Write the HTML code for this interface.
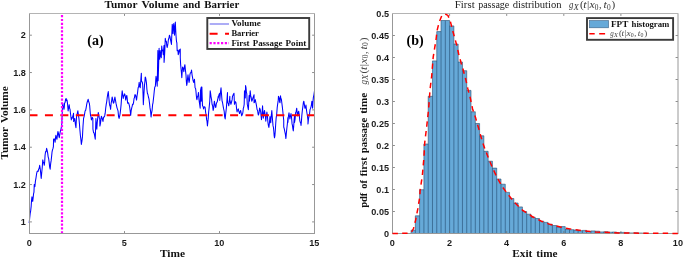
<!DOCTYPE html>
<html><head><meta charset="utf-8"><title>Tumor Volume and First Passage Distribution</title>
<style>html,body{margin:0;padding:0;background:#fff}body{width:685px;height:259px;overflow:hidden}svg{display:block}</style>
</head><body>
<svg width="685" height="259" viewBox="0 0 685 259">
<rect width="685" height="259" fill="#fff"/>
<path d="M124.50 233.5v-2.4M124.50 13.5v2.4" stroke="#707070" stroke-width="0.8" fill="none"/>
<path d="M219.50 233.5v-2.4M219.50 13.5v2.4" stroke="#707070" stroke-width="0.8" fill="none"/>
<path d="M29.5 221.90h2.4M314.5 221.90h-2.4" stroke="#707070" stroke-width="0.8" fill="none"/>
<path d="M29.5 184.56h2.4M314.5 184.56h-2.4" stroke="#707070" stroke-width="0.8" fill="none"/>
<path d="M29.5 147.22h2.4M314.5 147.22h-2.4" stroke="#707070" stroke-width="0.8" fill="none"/>
<path d="M29.5 109.88h2.4M314.5 109.88h-2.4" stroke="#707070" stroke-width="0.8" fill="none"/>
<path d="M29.5 72.54h2.4M314.5 72.54h-2.4" stroke="#707070" stroke-width="0.8" fill="none"/>
<path d="M29.5 35.20h2.4M314.5 35.20h-2.4" stroke="#707070" stroke-width="0.8" fill="none"/>
<path d="M29.17 223.06 L29.67 218.25 L30.18 213.45 L30.68 210.80 L31.18 206.07 L31.56 200.07 L31.95 196.81 L32.34 199.24 L32.72 201.44 L33.13 197.92 L33.55 193.85 L33.96 192.18 L34.26 184.45 L34.57 185.56 L34.88 186.62 L35.45 180.86 L36.01 177.85 L36.58 173.79 L37.10 171.64 L37.61 170.94 L38.13 171.48 L38.64 169.18 L39.16 168.41 L39.67 165.30 L40.18 168.47 L40.70 173.17 L41.21 178.43 L41.73 172.66 L42.24 167.51 L42.76 159.90 L43.27 161.95 L43.79 163.17 L44.30 165.30 L44.69 161.80 L45.07 155.26 L45.59 151.50 L46.10 151.78 L46.62 148.32 L47.13 150.48 L47.65 152.84 L48.16 156.81 L48.66 158.67 L49.16 162.37 L49.67 167.08 L50.17 169.16 L50.63 163.89 L51.09 160.93 L51.56 156.87 L52.02 152.18 L52.48 149.92 L52.95 148.63 L53.41 146.62 L53.57 139.20 L54.08 138.83 L54.60 139.85 L55.11 142.29 L55.50 137.87 L55.88 135.34 L56.42 137.85 L56.96 139.20 L57.42 135.11 L57.89 131.48 L58.35 132.95 L58.82 135.87 L59.28 137.66 L59.69 135.19 L60.11 132.39 L60.52 130.71 L60.93 129.59 L61.34 127.23 L61.75 124.53 L62.23 113.03 L62.72 103.16 L63.13 105.46 L63.55 107.36 L63.96 109.34 L64.27 107.45 L64.57 103.16 L65.09 102.35 L65.60 99.39 L66.12 98.53 L66.58 100.84 L67.04 100.07 L67.59 104.25 L68.13 110.88 L68.67 107.53 L69.21 104.71 L69.62 108.36 L70.03 109.26 L70.44 113.20 L70.88 116.51 L71.32 119.90 L71.66 117.70 L71.99 118.45 L72.50 117.24 L73.02 115.80 L73.53 113.20 L73.64 121.44 L74.20 120.18 L74.77 118.45 L75.36 124.24 L75.96 127.62 L76.29 120.97 L76.62 115.52 L77.03 114.60 L77.44 112.73 L77.85 110.88 L78.39 114.92 L78.93 118.45 L79.42 123.51 L79.90 129.94 L80.39 135.47 L80.87 139.17 L81.36 144.45 L81.90 141.19 L82.44 136.88 L83.00 126.26 L83.57 118.45 L84.08 116.57 L84.60 113.87 L85.11 110.88 L85.63 110.40 L86.14 107.80 L86.66 104.71 L87.17 102.22 L87.69 100.74 L88.20 99.30 L88.74 101.77 L89.28 103.16 L89.69 105.75 L90.11 111.28 L90.52 115.52 L90.96 116.65 L91.40 119.90 L91.88 118.19 L92.35 117.52 L92.83 118.45 L92.94 129.16 L93.52 132.53 L94.10 132.99 L94.68 135.88 L95.26 139.20 L95.59 128.48 L95.92 118.45 L96.36 124.99 L96.80 129.16 L97.28 122.24 L97.76 117.84 L98.24 112.43 L98.75 114.59 L99.27 117.67 L99.78 118.45 L99.89 126.07 L100.37 123.83 L100.84 120.71 L101.32 116.29 L101.87 117.30 L102.43 119.45 L102.98 121.44 L103.31 118.80 L103.64 117.06 L104.16 117.00 L104.67 115.95 L105.19 113.20 L105.70 108.22 L106.22 104.44 L106.73 101.62 L107.24 97.42 L107.76 94.07 L108.27 91.58 L108.81 97.32 L109.35 103.16 L109.76 105.51 L110.18 106.52 L110.59 109.34 L111.10 103.64 L111.62 100.85 L112.13 96.99 L112.54 98.63 L112.96 101.32 L113.37 103.16 L113.88 102.55 L114.40 99.66 L114.91 96.99 L115.45 100.12 L115.99 103.16 L116.51 105.60 L117.02 107.84 L117.54 109.34 L118.05 110.95 L118.57 116.69 L119.08 118.45 L119.60 116.31 L120.11 113.58 L120.63 109.34 L121.14 104.12 L121.66 96.64 L122.17 90.81 L122.71 94.35 L123.25 98.53 L123.66 95.72 L124.08 95.87 L124.49 93.90 L124.90 94.56 L125.31 96.63 L125.72 100.07 L126.26 96.82 L126.80 95.44 L127.19 98.22 L127.58 103.16 L128.09 103.16 L128.61 102.76 L129.12 104.71 L129.63 106.71 L130.15 110.80 L130.66 115.52 L131.20 110.38 L131.74 107.79 L132.15 106.33 L132.57 104.22 L132.98 104.71 L133.52 102.82 L134.06 98.53 L134.47 97.61 L134.89 94.83 L135.30 94.67 L135.71 95.68 L136.12 97.78 L136.53 100.07 L137.07 95.78 L137.61 92.35 L138.13 87.80 L138.64 86.78 L139.16 82.32 L139.70 86.60 L140.24 87.72 L140.80 80.33 L141.35 73.16 L141.47 80.62 L141.88 81.90 L142.30 81.97 L142.71 84.63 L143.02 93.40 L143.33 104.71 L143.74 97.51 L144.15 90.57 L144.56 84.63 L144.88 81.88 L145.21 77.02 L145.66 77.74 L146.11 80.62 L146.50 83.41 L146.88 89.26 L147.39 93.28 L147.91 94.50 L148.42 96.99 L148.96 98.94 L149.50 103.16 L150.02 107.93 L150.53 110.91 L151.05 117.06 L151.56 113.03 L152.08 110.36 L152.59 104.71 L153.00 102.78 L153.42 99.16 L153.83 95.44 L154.31 90.49 L154.78 87.06 L155.37 86.18 L155.69 80.79 L156.02 76.25 L156.61 80.62 L156.79 81.66 L157.22 86.18 L157.55 67.25 L157.87 50.45 L157.87 70.07 L158.15 80.62 L158.62 65.33 L159.10 48.29 L159.10 54.63 L159.41 57.05 L159.72 59.26 L160.19 50.45 L160.49 53.09 L160.88 56.30 L161.27 57.72 L161.73 45.97 L162.19 50.62 L162.50 49.99 L162.81 50.45 L163.27 54.63 L163.66 49.03 L164.05 45.20 L164.05 62.35 L164.44 57.48 L164.82 50.62 L165.28 38.25 L165.82 41.35 L166.36 41.34 L166.75 45.56 L167.13 47.52 L167.54 45.92 L167.96 43.39 L168.37 39.79 L168.91 38.24 L169.45 35.16 L169.99 36.60 L170.53 39.79 L171.00 42.17 L171.46 44.43 L171.84 33.93 L172.23 24.35 L172.62 27.48 L173.00 33.62 L173.38 27.09 L173.77 23.58 L174.16 28.66 L174.55 35.16 L174.94 27.83 L175.32 22.04 L175.70 29.99 L176.09 36.71 L176.48 41.26 L176.86 42.88 L177.17 50.62 L177.56 50.37 L177.94 50.45 L178.25 54.63 L178.72 53.63 L179.18 49.83 L179.18 51.54 L179.72 51.86 L180.26 49.06 L180.26 57.72 L180.64 64.58 L181.03 68.53 L181.42 72.73 L181.80 77.79 L182.19 71.50 L182.58 66.99 L182.99 67.66 L183.40 69.11 L183.81 71.62 L184.35 67.20 L184.89 64.67 L185.43 70.09 L185.97 74.71 L186.36 81.40 L186.74 85.52 L187.15 83.01 L187.57 78.25 L187.98 74.71 L188.52 79.06 L189.06 82.43 L189.47 80.30 L189.89 74.92 L190.30 73.16 L190.71 72.64 L191.12 72.41 L191.53 70.07 L192.07 74.83 L192.61 77.79 L193.15 80.91 L193.69 82.43 L194.08 80.81 L194.47 79.34 L195.07 87.79 L195.55 88.45 L195.93 90.96 L196.31 95.52 L196.62 98.50 L196.93 99.63 L197.44 96.69 L197.96 95.79 L198.47 92.43 L198.94 99.08 L199.40 102.72 L199.78 105.09 L200.17 108.13 L200.48 90.88 L200.87 88.63 L201.25 87.02 L201.25 101.18 L201.56 95.55 L201.88 87.06 L202.19 97.15 L202.49 105.81 L203.03 106.30 L203.57 108.90 L204.08 107.19 L204.60 106.75 L205.11 107.35 L205.65 112.51 L206.19 115.07 L206.60 119.65 L207.02 121.14 L207.43 125.88 L207.84 122.29 L208.25 118.16 L208.66 111.99 L209.20 107.09 L209.74 101.18 L210.21 90.88 L210.67 93.75 L211.13 97.73 L211.60 99.73 L212.06 104.26 L212.60 105.80 L213.14 110.44 L213.55 108.86 L213.97 104.75 L214.38 101.18 L214.92 104.35 L215.46 107.35 L215.87 107.19 L216.28 104.05 L216.69 102.72 L217.21 101.77 L217.72 99.48 L218.24 96.29 L218.24 98.09 L218.75 95.54 L219.27 94.04 L219.78 93.20 L219.78 100.40 L220.19 95.53 L220.61 91.16 L221.02 87.79 L221.56 94.76 L222.10 101.18 L222.61 102.98 L223.13 106.07 L223.64 108.90 L224.16 111.06 L224.67 116.90 L225.19 118.93 L225.60 114.60 L226.01 111.08 L226.42 107.35 L226.96 100.16 L227.50 92.43 L227.50 99.63 L227.91 102.98 L228.33 103.50 L228.74 105.81 L229.28 102.39 L229.82 96.29 L229.82 99.63 L230.36 101.95 L230.90 104.26 L231.31 102.82 L231.72 101.25 L232.13 99.63 L232.52 96.03 L232.91 95.52 L233.45 94.17 L233.99 93.20 L234.45 104.26 L234.96 102.73 L235.48 101.65 L235.99 102.72 L236.54 108.31 L237.08 111.99 L237.49 109.91 L237.90 109.85 L238.31 108.90 L238.72 111.16 L239.14 112.17 L239.55 113.53 L240.09 111.43 L240.63 110.44 L241.17 113.20 L241.71 115.85 L242.12 114.74 L242.53 114.19 L242.94 111.99 L243.35 108.15 L243.77 107.03 L244.18 104.26 L244.49 90.88 L244.88 93.68 L245.26 98.09 L245.57 85.48 L245.98 87.60 L246.39 92.01 L246.80 93.97 L247.27 104.26 L247.81 106.99 L248.35 109.67 L248.74 102.79 L249.12 95.52 L249.43 101.18 L249.81 96.86 L250.20 90.88 L250.71 95.63 L251.23 97.57 L251.74 101.18 L252.32 99.93 L252.90 97.98 L253.48 96.39 L254.06 94.74 L254.06 102.72 L254.47 102.31 L254.89 100.51 L255.30 99.63 L255.71 101.80 L256.12 103.68 L256.53 105.81 L257.07 109.54 L257.61 110.44 L258.00 113.39 L258.38 115.07 L258.79 113.96 L259.21 111.86 L259.62 108.13 L260.16 109.29 L260.70 111.99 L261.09 116.04 L261.47 119.71 L262.01 114.18 L262.55 105.81 L262.94 113.07 L263.33 118.16 L263.74 114.43 L264.15 111.80 L264.56 110.44 L264.97 113.86 L265.39 116.28 L265.80 121.25 L266.34 115.79 L266.88 111.99 L267.42 116.02 L267.96 122.79 L268.42 125.65 L268.89 127.43 L269.43 122.93 L269.97 116.62 L270.36 120.98 L270.74 122.79 L271.28 115.51 L271.82 110.44 L272.23 116.28 L272.64 121.25 L273.05 125.88 L273.43 127.30 L273.80 131.00 L274.15 135.63 L274.50 137.80 L274.90 135.65 L275.30 130.50 L275.72 123.43 L276.14 118.16 L276.68 114.20 L277.22 107.35 L277.69 103.94 L278.15 101.18 L278.46 96.29 L278.85 97.15 L279.23 98.09 L279.62 101.97 L280.00 102.72 L280.49 95.81 L280.90 98.93 L281.32 98.85 L281.73 101.99 L282.27 106.40 L282.81 111.25 L283.27 115.93 L283.74 120.52 L283.74 126.99 L284.28 128.79 L284.82 131.62 L285.36 134.12 L285.90 138.57 L286.37 132.97 L286.83 128.53 L287.37 123.69 L287.91 117.43 L287.91 122.35 L288.45 116.03 L288.99 112.79 L289.45 116.05 L289.91 118.97 L290.45 116.08 L290.99 113.57 L291.53 117.19 L292.08 123.90 L292.49 125.68 L292.90 128.93 L293.31 130.85 L293.72 125.90 L294.14 119.48 L294.55 115.88 L294.55 122.35 L295.09 119.12 L295.63 112.79 L296.17 111.40 L296.71 108.16 L297.17 113.53 L297.63 115.88 L298.18 112.30 L298.72 111.25 L299.26 115.13 L299.80 120.52 L300.26 122.35 L300.64 122.42 L301.03 125.44 L301.41 121.55 L301.80 115.88 L302.34 110.52 L302.88 106.62 L303.35 102.73 L303.81 101.21 L304.35 104.44 L304.89 108.16 L305.43 107.93 L305.97 105.07 L306.44 109.95 L306.90 112.79 L307.44 115.88 L307.98 120.52 L307.98 123.90 L308.52 118.77 L309.06 115.88 L309.52 114.14 L309.99 109.71 L310.53 108.39 L311.07 106.62 L311.45 104.56 L311.84 101.21 L312.23 103.37 L312.61 108.16 L313.00 101.34 L313.38 97.35 L313.93 94.87 L314.47 91.18" fill="none" stroke="#0000ff" stroke-width="1.05" stroke-linejoin="round"/>
<path d="M29.5 115.2H314.5" stroke="#ff0000" stroke-width="2.1" stroke-dasharray="8 7.43" fill="none"/>
<path d="M62.0 13.5V233.5" stroke="#ff00ff" stroke-width="2.2" stroke-dasharray="2.2 1.59" stroke-dashoffset="2.19" fill="none"/>
<path d="M29.0 13.5H315.0" stroke="#b4b4b4" stroke-width="1" fill="none"/>
<path d="M29.5 14.0V233.5M314.5 14.0V233.5M29.0 233.5H315.0" stroke="#989898" stroke-width="1" fill="none"/>
<text x="29.20" y="246.1" text-anchor="middle" font-family="Liberation Sans, Arial, Helvetica, sans-serif" font-weight="bold" font-size="9.1" fill="#1c1c1c">0</text>
<text x="124.20" y="246.1" text-anchor="middle" font-family="Liberation Sans, Arial, Helvetica, sans-serif" font-weight="bold" font-size="9.1" fill="#1c1c1c">5</text>
<text x="219.20" y="246.1" text-anchor="middle" font-family="Liberation Sans, Arial, Helvetica, sans-serif" font-weight="bold" font-size="9.1" fill="#1c1c1c">10</text>
<text x="314.20" y="246.1" text-anchor="middle" font-family="Liberation Sans, Arial, Helvetica, sans-serif" font-weight="bold" font-size="9.1" fill="#1c1c1c">15</text>
<text x="25.9" y="224.90" text-anchor="end" font-family="Liberation Sans, Arial, Helvetica, sans-serif" font-weight="bold" font-size="9.1" fill="#1c1c1c">1</text>
<text x="25.9" y="187.56" text-anchor="end" font-family="Liberation Sans, Arial, Helvetica, sans-serif" font-weight="bold" font-size="9.1" fill="#1c1c1c">1.2</text>
<text x="25.9" y="150.22" text-anchor="end" font-family="Liberation Sans, Arial, Helvetica, sans-serif" font-weight="bold" font-size="9.1" fill="#1c1c1c">1.4</text>
<text x="25.9" y="112.88" text-anchor="end" font-family="Liberation Sans, Arial, Helvetica, sans-serif" font-weight="bold" font-size="9.1" fill="#1c1c1c">1.6</text>
<text x="25.9" y="75.54" text-anchor="end" font-family="Liberation Sans, Arial, Helvetica, sans-serif" font-weight="bold" font-size="9.1" fill="#1c1c1c">1.8</text>
<text x="25.9" y="38.20" text-anchor="end" font-family="Liberation Sans, Arial, Helvetica, sans-serif" font-weight="bold" font-size="9.1" fill="#1c1c1c">2</text>
<g transform="translate(104.3 8)"><text x="0.10" y="0" font-family="Liberation Serif, Times New Roman, serif" font-weight="bold" font-size="10" textLength="33.06" lengthAdjust="spacingAndGlyphs" fill="#111">Tumor</text><text x="37.16" y="0" font-family="Liberation Serif, Times New Roman, serif" font-weight="bold" font-size="10" textLength="37.33" lengthAdjust="spacingAndGlyphs" fill="#111">Volume</text><text x="78.50" y="0" font-family="Liberation Serif, Times New Roman, serif" font-weight="bold" font-size="10" textLength="17.48" lengthAdjust="spacingAndGlyphs" fill="#111">and</text><text x="99.99" y="0" font-family="Liberation Serif, Times New Roman, serif" font-weight="bold" font-size="10" textLength="34.98" lengthAdjust="spacingAndGlyphs" fill="#111">Barrier</text></g>
<text x="159.9" y="257.4" font-family="Liberation Serif, Times New Roman, serif" font-weight="bold" font-size="10" textLength="25.1" lengthAdjust="spacingAndGlyphs" fill="#111">Time</text>
<g transform="translate(8.3 159.6) rotate(-90)"><text x="0.10" y="0" font-family="Liberation Serif, Times New Roman, serif" font-weight="bold" font-size="10" textLength="32.54" lengthAdjust="spacingAndGlyphs" fill="#111">Tumor</text><text x="36.59" y="0" font-family="Liberation Serif, Times New Roman, serif" font-weight="bold" font-size="10" textLength="36.74" lengthAdjust="spacingAndGlyphs" fill="#111">Volume</text></g>
<text x="87.3" y="44.7" font-family="Liberation Serif, Times New Roman, serif" font-weight="bold" font-size="14" fill="#000">(a)</text>
<rect x="207.3" y="18.0" width="101.9" height="30.95" fill="#fff" stroke="#3a3a3a" stroke-width="1.9"/>
<path d="M209.7 24.0H229" stroke="#7c7cf0" stroke-width="1.25" fill="none"/>
<path d="M209.6 33.8H229" stroke="#ff0000" stroke-width="2" stroke-dasharray="8 7.45 4 0" fill="none"/>
<path d="M209.6 43.1H229" stroke="#ff00ff" stroke-width="2.1" stroke-dasharray="2.2 1.6" fill="none"/>
<g transform="translate(231.3 26.3)"><text x="0.10" y="0" font-family="Liberation Serif, Times New Roman, serif" font-weight="bold" font-size="7.8" textLength="29.36" lengthAdjust="spacingAndGlyphs" fill="#111">Volume</text></g>
<g transform="translate(231.3 36.2)"><text x="0.10" y="0" font-family="Liberation Serif, Times New Roman, serif" font-weight="bold" font-size="7.8" textLength="27.51" lengthAdjust="spacingAndGlyphs" fill="#111">Barrier</text></g>
<g transform="translate(231.3 46.0)"><text x="0.10" y="0" font-family="Liberation Serif, Times New Roman, serif" font-weight="bold" font-size="7.8" textLength="18.15" lengthAdjust="spacingAndGlyphs" fill="#111">First</text><text x="21.47" y="0" font-family="Liberation Serif, Times New Roman, serif" font-weight="bold" font-size="7.8" textLength="29.56" lengthAdjust="spacingAndGlyphs" fill="#111">Passage</text><text x="54.26" y="0" font-family="Liberation Serif, Times New Roman, serif" font-weight="bold" font-size="7.8" textLength="20.80" lengthAdjust="spacingAndGlyphs" fill="#111">Point</text></g>
<path d="M411.06 233.5V230.20H415.34V215.80H419.62V189.70H423.91V144.00H428.19V96.30H432.47V60.90H436.75V31.60H441.04V20.50H445.32V20.50H449.60V25.90H453.88V44.00H458.16V62.00H462.45V70.70H466.73V90.40H471.01V111.75H475.30V123.50H479.58V135.80H483.86V151.30H488.14V161.20H492.43V168.10H496.71V179.00H500.99V184.20H505.27V192.40H509.56V198.50H513.84V203.00H518.12V206.90H522.40V211.60H526.68V214.20H530.97V217.30H535.25V218.50H539.53V221.20H543.82V222.40H548.10V224.25H552.38V225.50H556.66V227.00H560.95V226.60H565.23V229.30H569.51V229.65H573.79V230.00H578.08V230.70H582.36V230.40H586.64V231.50H590.92V230.90H595.21V231.20H599.49V231.90H603.77V231.70H608.05V232.20H612.34V232.00H616.62V232.50H620.90V232.40H625.18V232.70H629.46V232.90H633.75V232.80H638.03V233.00H642.31V233.10H646.60V233.5Z" fill="#66a9d8" stroke="none"/>
<path d="M411.06 233.5V230.20M415.34 233.5V215.80M419.62 233.5V189.70M423.91 233.5V144.00M428.19 233.5V96.30M432.47 233.5V60.90M436.75 233.5V31.60M441.04 233.5V20.50M445.32 233.5V20.50M449.60 233.5V20.50M453.88 233.5V25.90M458.16 233.5V44.00M462.45 233.5V62.00M466.73 233.5V70.70M471.01 233.5V90.40M475.30 233.5V111.75M479.58 233.5V123.50M483.86 233.5V135.80M488.14 233.5V151.30M492.43 233.5V161.20M496.71 233.5V168.10M500.99 233.5V179.00M505.27 233.5V184.20M509.56 233.5V192.40M513.84 233.5V198.50M518.12 233.5V203.00M522.40 233.5V206.90M526.68 233.5V211.60M530.97 233.5V214.20M535.25 233.5V217.30M539.53 233.5V218.50M543.82 233.5V221.20M548.10 233.5V222.40M552.38 233.5V224.25M556.66 233.5V225.50M560.95 233.5V226.60M565.23 233.5V226.60M569.51 233.5V229.30M573.79 233.5V229.65M578.08 233.5V230.00M582.36 233.5V230.40M586.64 233.5V230.40M590.92 233.5V230.90M595.21 233.5V230.90M599.49 233.5V231.20M603.77 233.5V231.70M608.05 233.5V231.70M612.34 233.5V232.00M616.62 233.5V232.00M620.90 233.5V232.40M625.18 233.5V232.40M629.46 233.5V232.70M633.75 233.5V232.80M638.03 233.5V232.80M642.31 233.5V233.00M646.60 233.5V233.10M411.06 230.20H415.34M415.34 215.80H419.62M419.62 189.70H423.91M423.91 144.00H428.19M428.19 96.30H432.47M432.47 60.90H436.75M436.75 31.60H441.04M441.04 20.50H445.32M445.32 20.50H449.60M449.60 25.90H453.88M453.88 44.00H458.16M458.16 62.00H462.45M462.45 70.70H466.73M466.73 90.40H471.01M471.01 111.75H475.30M475.30 123.50H479.58M479.58 135.80H483.86M483.86 151.30H488.14M488.14 161.20H492.43M492.43 168.10H496.71M496.71 179.00H500.99M500.99 184.20H505.27M505.27 192.40H509.56M509.56 198.50H513.84M513.84 203.00H518.12M518.12 206.90H522.40M522.40 211.60H526.68M526.68 214.20H530.97M530.97 217.30H535.25M535.25 218.50H539.53M539.53 221.20H543.82M543.82 222.40H548.10M548.10 224.25H552.38M552.38 225.50H556.66M556.66 227.00H560.95M560.95 226.60H565.23M565.23 229.30H569.51M569.51 229.65H573.79M573.79 230.00H578.08M578.08 230.70H582.36M582.36 230.40H586.64M586.64 231.50H590.92M590.92 230.90H595.21M595.21 231.20H599.49M599.49 231.90H603.77M603.77 231.70H608.05M608.05 232.20H612.34M612.34 232.00H616.62M616.62 232.50H620.90M620.90 232.40H625.18M625.18 232.70H629.46M629.46 232.90H633.75M633.75 232.80H638.03M638.03 233.00H642.31M642.31 233.10H646.60" fill="none" stroke="#1d4266" stroke-opacity="0.85" stroke-width="0.65"/>
<path d="M449.60 233.5v-2.4M449.60 13.5v2.4" stroke="#707070" stroke-width="0.8" fill="none"/>
<path d="M506.70 233.5v-2.4M506.70 13.5v2.4" stroke="#707070" stroke-width="0.8" fill="none"/>
<path d="M563.80 233.5v-2.4M563.80 13.5v2.4" stroke="#707070" stroke-width="0.8" fill="none"/>
<path d="M620.90 233.5v-2.4M620.90 13.5v2.4" stroke="#707070" stroke-width="0.8" fill="none"/>
<path d="M392.5 211.50h2.4M678.0 211.50h-2.4" stroke="#707070" stroke-width="0.8" fill="none"/>
<path d="M392.5 189.50h2.4M678.0 189.50h-2.4" stroke="#707070" stroke-width="0.8" fill="none"/>
<path d="M392.5 167.50h2.4M678.0 167.50h-2.4" stroke="#707070" stroke-width="0.8" fill="none"/>
<path d="M392.5 145.50h2.4M678.0 145.50h-2.4" stroke="#707070" stroke-width="0.8" fill="none"/>
<path d="M392.5 123.50h2.4M678.0 123.50h-2.4" stroke="#707070" stroke-width="0.8" fill="none"/>
<path d="M392.5 101.50h2.4M678.0 101.50h-2.4" stroke="#707070" stroke-width="0.8" fill="none"/>
<path d="M392.5 79.50h2.4M678.0 79.50h-2.4" stroke="#707070" stroke-width="0.8" fill="none"/>
<path d="M392.5 57.50h2.4M678.0 57.50h-2.4" stroke="#707070" stroke-width="0.8" fill="none"/>
<path d="M392.5 35.50h2.4M678.0 35.50h-2.4" stroke="#707070" stroke-width="0.8" fill="none"/>
<path d="M392.0 13.5H678.5" stroke="#b4b4b4" stroke-width="1" fill="none"/>
<path d="M392.5 14.0V233.5M678.0 14.0V233.5M392.0 233.5H678.5" stroke="#989898" stroke-width="1" fill="none"/>
<path d="M392.50 233.40 L400.00 233.40 L406.00 233.30 L409.00 233.00 L411.60 232.10 L413.50 228.50 L415.40 221.30 L417.80 208.90 L419.80 196.50 L420.10 190.50 L422.40 175.10 L423.90 158.10 L424.70 142.80 L426.60 127.40 L427.80 116.50 L428.60 109.00 L430.10 88.90 L431.70 76.00 L433.20 57.10 L434.80 47.10 L435.80 41.60 L437.10 30.50 L439.10 22.40 L441.70 15.90 L444.80 13.90 L447.90 15.40 L450.20 20.80 L452.50 30.10 L454.90 38.50 L457.20 47.10 L458.70 54.00 L461.00 62.50 L463.30 70.20 L465.60 78.90 L467.90 88.90 L470.30 98.20 L472.60 109.00 L475.70 118.10 L478.80 128.90 L481.80 139.70 L484.90 149.00 L488.80 158.90 L492.60 168.10 L497.00 177.30 L502.30 186.80 L508.90 195.50 L514.50 202.50 L522.80 210.40 L532.10 216.50 L541.30 221.20 L550.60 224.60 L561.40 227.30 L572.20 229.30 L583.00 230.70 L595.40 232.00 L618.60 232.90 L649.50 233.30 L678.00 233.40" fill="none" stroke="#ff0000" stroke-width="1.5" stroke-dasharray="5.4 4.3" stroke-linejoin="round"/>
<text x="392.40" y="246.1" text-anchor="middle" font-family="Liberation Sans, Arial, Helvetica, sans-serif" font-weight="bold" font-size="9.1" fill="#1c1c1c">0</text>
<text x="449.50" y="246.1" text-anchor="middle" font-family="Liberation Sans, Arial, Helvetica, sans-serif" font-weight="bold" font-size="9.1" fill="#1c1c1c">2</text>
<text x="506.60" y="246.1" text-anchor="middle" font-family="Liberation Sans, Arial, Helvetica, sans-serif" font-weight="bold" font-size="9.1" fill="#1c1c1c">4</text>
<text x="563.70" y="246.1" text-anchor="middle" font-family="Liberation Sans, Arial, Helvetica, sans-serif" font-weight="bold" font-size="9.1" fill="#1c1c1c">6</text>
<text x="620.80" y="246.1" text-anchor="middle" font-family="Liberation Sans, Arial, Helvetica, sans-serif" font-weight="bold" font-size="9.1" fill="#1c1c1c">8</text>
<text x="677.90" y="246.1" text-anchor="middle" font-family="Liberation Sans, Arial, Helvetica, sans-serif" font-weight="bold" font-size="9.1" fill="#1c1c1c">10</text>
<text x="389" y="236.50" text-anchor="end" font-family="Liberation Sans, Arial, Helvetica, sans-serif" font-weight="bold" font-size="9.1" fill="#1c1c1c">0</text>
<text x="389" y="214.50" text-anchor="end" font-family="Liberation Sans, Arial, Helvetica, sans-serif" font-weight="bold" font-size="9.1" fill="#1c1c1c">0.05</text>
<text x="389" y="192.50" text-anchor="end" font-family="Liberation Sans, Arial, Helvetica, sans-serif" font-weight="bold" font-size="9.1" fill="#1c1c1c">0.1</text>
<text x="389" y="170.50" text-anchor="end" font-family="Liberation Sans, Arial, Helvetica, sans-serif" font-weight="bold" font-size="9.1" fill="#1c1c1c">0.15</text>
<text x="389" y="148.50" text-anchor="end" font-family="Liberation Sans, Arial, Helvetica, sans-serif" font-weight="bold" font-size="9.1" fill="#1c1c1c">0.2</text>
<text x="389" y="126.50" text-anchor="end" font-family="Liberation Sans, Arial, Helvetica, sans-serif" font-weight="bold" font-size="9.1" fill="#1c1c1c">0.25</text>
<text x="389" y="104.50" text-anchor="end" font-family="Liberation Sans, Arial, Helvetica, sans-serif" font-weight="bold" font-size="9.1" fill="#1c1c1c">0.3</text>
<text x="389" y="82.50" text-anchor="end" font-family="Liberation Sans, Arial, Helvetica, sans-serif" font-weight="bold" font-size="9.1" fill="#1c1c1c">0.35</text>
<text x="389" y="60.50" text-anchor="end" font-family="Liberation Sans, Arial, Helvetica, sans-serif" font-weight="bold" font-size="9.1" fill="#1c1c1c">0.4</text>
<text x="389" y="38.50" text-anchor="end" font-family="Liberation Sans, Arial, Helvetica, sans-serif" font-weight="bold" font-size="9.1" fill="#1c1c1c">0.45</text>
<text x="389" y="16.50" text-anchor="end" font-family="Liberation Sans, Arial, Helvetica, sans-serif" font-weight="bold" font-size="9.1" fill="#1c1c1c">0.5</text>
<g transform="translate(512.2 257.4)"><text x="0.10" y="0" font-family="Liberation Serif, Times New Roman, serif" font-weight="bold" font-size="10" textLength="20.03" lengthAdjust="spacingAndGlyphs" fill="#111">Exit</text><text x="24.09" y="0" font-family="Liberation Serif, Times New Roman, serif" font-weight="bold" font-size="10" textLength="21.20" lengthAdjust="spacingAndGlyphs" fill="#111">time</text></g>
<text x="406.6" y="44.6" font-family="Liberation Serif, Times New Roman, serif" font-weight="bold" font-size="14" fill="#000">(b)</text>
<g transform="translate(454.7 8)"><text x="0.10" y="0" font-family="Liberation Serif, Times New Roman, serif" font-size="10" textLength="19.85" lengthAdjust="spacingAndGlyphs" fill="#222">First</text><text x="23.44" y="0" font-family="Liberation Serif, Times New Roman, serif" font-size="10" textLength="31.17" lengthAdjust="spacingAndGlyphs" fill="#222">passage</text><text x="58.09" y="0" font-family="Liberation Serif, Times New Roman, serif" font-size="10" textLength="48.72" lengthAdjust="spacingAndGlyphs" fill="#222">distribution</text></g>
<g transform="translate(568.8 8)"><text x="0.09" y="0.00" font-family="Liberation Serif, Times New Roman, serif" font-style="italic" font-size="9.89" textLength="4.40" lengthAdjust="spacingAndGlyphs" fill="#333">g</text><text x="4.69" y="1.63" font-family="Liberation Serif, Times New Roman, serif" font-style="italic" font-size="7.49" textLength="5.35" lengthAdjust="spacingAndGlyphs" fill="#333">X</text><text x="11.08" y="0.29" font-family="Liberation Serif, Times New Roman, serif" font-size="11.14" fill="#333">(</text><text x="14.43" y="0.00" font-family="Liberation Serif, Times New Roman, serif" font-style="italic" font-size="9.89" textLength="3.33" lengthAdjust="spacingAndGlyphs" fill="#333">t</text><text x="18.15" y="0.29" font-family="Liberation Serif, Times New Roman, serif" font-size="11.14" fill="#333">|</text><text x="20.61" y="0.00" font-family="Liberation Serif, Times New Roman, serif" font-style="italic" font-size="9.89" textLength="5.27" lengthAdjust="spacingAndGlyphs" fill="#333">x</text><text x="26.06" y="1.63" font-family="Liberation Serif, Times New Roman, serif" font-size="7.68" textLength="3.69" lengthAdjust="spacingAndGlyphs" fill="#333">0</text><text x="30.31" y="0.00" font-family="Liberation Serif, Times New Roman, serif" font-size="9.89" fill="#333">,</text><text x="34.65" y="0.00" font-family="Liberation Serif, Times New Roman, serif" font-style="italic" font-size="9.89" textLength="3.33" lengthAdjust="spacingAndGlyphs" fill="#333">t</text><text x="38.12" y="1.63" font-family="Liberation Serif, Times New Roman, serif" font-size="7.68" textLength="3.69" lengthAdjust="spacingAndGlyphs" fill="#333">0</text><text x="42.81" y="0.29" font-family="Liberation Serif, Times New Roman, serif" font-size="11.14" fill="#333">)</text></g>
<g transform="translate(367.2 207.9) rotate(-90)"><text x="0.10" y="0" font-family="Liberation Serif, Times New Roman, serif" font-weight="bold" font-size="10" textLength="15.16" lengthAdjust="spacingAndGlyphs" fill="#111">pdf</text><text x="19.19" y="0" font-family="Liberation Serif, Times New Roman, serif" font-weight="bold" font-size="10" textLength="8.49" lengthAdjust="spacingAndGlyphs" fill="#111">of</text><text x="31.62" y="0" font-family="Liberation Serif, Times New Roman, serif" font-weight="bold" font-size="10" textLength="19.11" lengthAdjust="spacingAndGlyphs" fill="#111">first</text><text x="54.66" y="0" font-family="Liberation Serif, Times New Roman, serif" font-weight="bold" font-size="10" textLength="35.45" lengthAdjust="spacingAndGlyphs" fill="#111">passage</text><text x="94.04" y="0" font-family="Liberation Serif, Times New Roman, serif" font-weight="bold" font-size="10" textLength="21.06" lengthAdjust="spacingAndGlyphs" fill="#111">time</text></g>
<g transform="translate(366.6 84.7) rotate(-90)"><text x="0.09" y="0.00" font-family="Liberation Serif, Times New Roman, serif" font-style="italic" font-size="10.04" textLength="4.46" lengthAdjust="spacingAndGlyphs" fill="#444">g</text><text x="4.76" y="1.66" font-family="Liberation Serif, Times New Roman, serif" font-style="italic" font-size="7.61" textLength="5.43" lengthAdjust="spacingAndGlyphs" fill="#444">X</text><text x="11.25" y="0.29" font-family="Liberation Serif, Times New Roman, serif" font-size="11.31" fill="#444">(</text><text x="14.66" y="0.00" font-family="Liberation Serif, Times New Roman, serif" font-style="italic" font-size="10.04" textLength="3.38" lengthAdjust="spacingAndGlyphs" fill="#444">t</text><text x="18.43" y="0.29" font-family="Liberation Serif, Times New Roman, serif" font-size="11.31" fill="#444">|</text><text x="20.93" y="0.00" font-family="Liberation Serif, Times New Roman, serif" font-style="italic" font-size="10.04" textLength="5.35" lengthAdjust="spacingAndGlyphs" fill="#444">x</text><text x="26.47" y="1.66" font-family="Liberation Serif, Times New Roman, serif" font-size="7.80" textLength="3.74" lengthAdjust="spacingAndGlyphs" fill="#444">0</text><text x="30.78" y="0.00" font-family="Liberation Serif, Times New Roman, serif" font-size="10.04" fill="#444">,</text><text x="35.19" y="0.00" font-family="Liberation Serif, Times New Roman, serif" font-style="italic" font-size="10.04" textLength="3.38" lengthAdjust="spacingAndGlyphs" fill="#444">t</text><text x="38.72" y="1.66" font-family="Liberation Serif, Times New Roman, serif" font-size="7.80" textLength="3.74" lengthAdjust="spacingAndGlyphs" fill="#444">0</text><text x="43.48" y="0.29" font-family="Liberation Serif, Times New Roman, serif" font-size="11.31" fill="#444">)</text></g>
<rect x="587.0" y="18.1" width="86.1" height="21.7" fill="#fff" stroke="#3a3a3a" stroke-width="1.9"/>
<rect x="589.4" y="20.5" width="19.2" height="7.3" fill="#66a9d8" stroke="#27496b" stroke-opacity="0.8" stroke-width="0.6"/>
<path d="M589.3 33.7H608.6" stroke="#ff0000" stroke-width="1.4" stroke-dasharray="5.4 4.5 5.9 10" fill="none"/>
<g transform="translate(610.9 26.6)"><text x="0.10" y="0" font-family="Liberation Serif, Times New Roman, serif" font-weight="bold" font-size="7.8" textLength="17.33" lengthAdjust="spacingAndGlyphs" fill="#111">FPT</text><text x="20.65" y="0" font-family="Liberation Serif, Times New Roman, serif" font-weight="bold" font-size="7.8" textLength="37.85" lengthAdjust="spacingAndGlyphs" fill="#111">histogram</text></g>
<g transform="translate(610.1 35.9)"><text x="0.07" y="0.00" font-family="Liberation Serif, Times New Roman, serif" font-style="italic" font-size="7.88" textLength="3.50" lengthAdjust="spacingAndGlyphs" fill="#444">g</text><text x="3.74" y="1.30" font-family="Liberation Serif, Times New Roman, serif" font-style="italic" font-size="5.97" textLength="4.26" lengthAdjust="spacingAndGlyphs" fill="#444">X</text><text x="8.83" y="0.23" font-family="Liberation Serif, Times New Roman, serif" font-size="8.87" fill="#444">(</text><text x="11.50" y="0.00" font-family="Liberation Serif, Times New Roman, serif" font-style="italic" font-size="7.88" textLength="2.65" lengthAdjust="spacingAndGlyphs" fill="#444">t</text><text x="14.46" y="0.23" font-family="Liberation Serif, Times New Roman, serif" font-size="8.87" fill="#444">|</text><text x="16.42" y="0.00" font-family="Liberation Serif, Times New Roman, serif" font-style="italic" font-size="7.88" textLength="4.20" lengthAdjust="spacingAndGlyphs" fill="#444">x</text><text x="20.77" y="1.30" font-family="Liberation Serif, Times New Roman, serif" font-size="6.12" textLength="2.94" lengthAdjust="spacingAndGlyphs" fill="#444">0</text><text x="24.15" y="0.00" font-family="Liberation Serif, Times New Roman, serif" font-size="7.88" fill="#444">,</text><text x="27.61" y="0.00" font-family="Liberation Serif, Times New Roman, serif" font-style="italic" font-size="7.88" textLength="2.65" lengthAdjust="spacingAndGlyphs" fill="#444">t</text><text x="30.38" y="1.30" font-family="Liberation Serif, Times New Roman, serif" font-size="6.12" textLength="2.94" lengthAdjust="spacingAndGlyphs" fill="#444">0</text><text x="34.12" y="0.23" font-family="Liberation Serif, Times New Roman, serif" font-size="8.87" fill="#444">)</text></g>
</svg>
</body></html>
